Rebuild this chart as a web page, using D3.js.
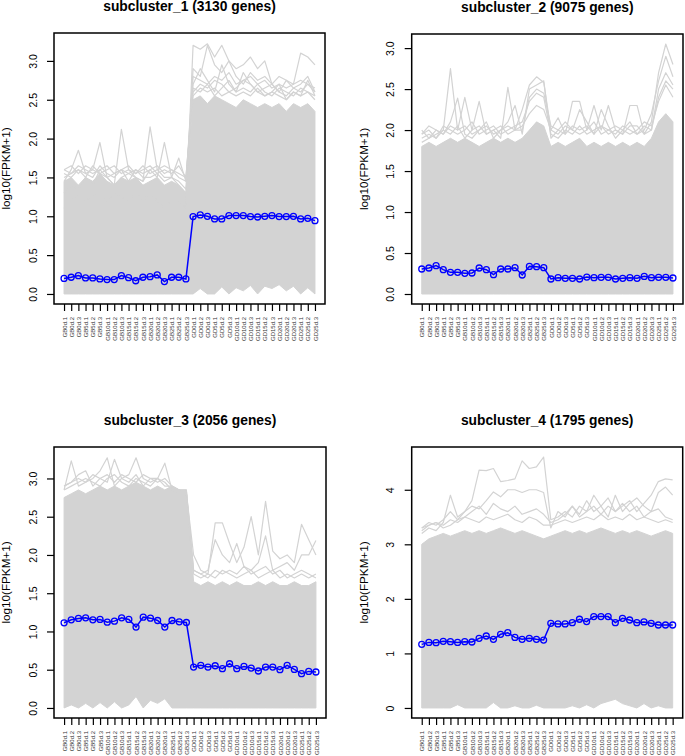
<!DOCTYPE html>
<html>
<head>
<meta charset="utf-8">
<script src="https://cdn.jsdelivr.net/npm/d3@7/dist/d3.min.js"></script>
<style>
  html, body { margin: 0; padding: 0; background: #fff; }
  svg { display: block; }
  text { font-family: "Liberation Sans", Arial, Helvetica, sans-serif; fill: #000; }
</style>
</head>
<body>
<svg id="chart" width="685" height="756"></svg>
<script>
// ---------------- DATA ----------------
const sampleLabels = [
  "GB0d.1","GB0d.2","GB0d.3","GB5d.1","GB5d.2","GB5d.3",
  "GB10d.1","GB10d.2","GB10d.3","GB15d.1","GB15d.2","GB15d.3",
  "GB20d.1","GB20d.2","GB20d.3","GB25d.1","GB25d.2","GB25d.3",
  "GD0d.1","GD0d.2","GD0d.3","GD5d.1","GD5d.2","GD5d.3",
  "GD10d.1","GD10d.2","GD10d.3","GD15d.1","GD15d.2","GD15d.3",
  "GD20d.1","GD20d.2","GD20d.3","GD25d.1","GD25d.2","GD25d.3"
];

const panelTitles = [
  "subcluster_1 (3130 genes)",
  "subcluster_2 (9075 genes)",
  "subcluster_3 (2056 genes)",
  "subcluster_4 (1795 genes)"
];

const yLabel = "log10(FPKM+1)";

const yTicks1 = [0, 0.5, 1, 1.5, 2, 2.5, 3];
const yTicks2 = [0, 0.5, 1, 1.5, 2, 2.5, 3];
const yTicks3 = [0, 0.5, 1, 1.5, 2, 2.5, 3];
const yTicks4 = [0, 1, 2, 3, 4];

const yMax1 = 3.23, yMax2 = 3.05, yMax3 = 3.28, yMax4 = 4.6;

// mean profiles (blue)
const mean1 = [0.20,0.215,0.236,0.206,0.206,0.193,0.185,0.185,0.236,0.21,0.17,0.215,0.223,0.245,0.16,0.215,0.215,0.193,
               0.996,1.017,1.0,0.966,0.966,1.009,1.009,1.009,0.996,0.991,1.0,1.009,0.996,0.996,1.0,0.966,0.974,0.944];
const mean2 = [0.305,0.317,0.346,0.297,0.264,0.264,0.252,0.256,0.317,0.297,0.236,0.305,0.305,0.321,0.232,0.337,0.333,0.321,
               0.183,0.199,0.191,0.191,0.183,0.207,0.199,0.203,0.203,0.183,0.191,0.199,0.191,0.215,0.199,0.203,0.203,0.195];
const mean3 = [1.113,1.152,1.170,1.178,1.152,1.157,1.122,1.135,1.178,1.157,1.057,1.187,1.174,1.143,1.057,1.143,1.126,1.117,
               0.535,0.557,0.535,0.552,0.513,0.578,0.513,0.543,0.522,0.483,0.535,0.535,0.50,0.557,0.504,0.448,0.478,0.47];
const mean4 = [1.166,1.202,1.196,1.221,1.215,1.202,1.215,1.209,1.276,1.319,1.258,1.35,1.38,1.294,1.258,1.276,1.258,1.245,
               1.552,1.54,1.54,1.564,1.626,1.583,1.675,1.675,1.675,1.564,1.644,1.613,1.564,1.577,1.552,1.521,1.521,1.521];

// dense gene-profile band (upper / lower edges of the solid grey mass)
const bandTop1 = [1.45,1.5,1.4,1.5,1.45,1.55,1.45,1.4,1.5,1.45,1.5,1.4,1.45,1.5,1.4,1.45,1.4,1.3,
                  2.5,2.55,2.45,2.55,2.5,2.45,2.4,2.5,2.45,2.4,2.45,2.4,2.45,2.35,2.45,2.4,2.45,2.35];
const bandLow1 = [0,0,0,0,0,0,0,0,0,0,0,0,0,0,0,0,0,0,
                  0,0.07,0,0,0.09,0,0.08,0.04,0.11,0,0.1,0.07,0.12,0.04,0.1,0,0.08,0];
const bandTop2 = [1.8,1.85,1.8,1.85,1.9,1.85,1.9,1.85,1.8,1.85,1.9,1.85,1.9,1.85,1.9,2.0,2.1,2.05,
                  1.8,1.85,1.8,1.85,1.9,1.8,1.85,1.8,1.85,1.8,1.85,1.8,1.85,1.8,1.9,2.1,2.2,2.1];
const bandLow2 = [0,0,0,0,0,0,0,0,0,0,0,0,0,0,0,0,0,0,
                  0,0,0,0,0,0,0,0,0,0,0,0,0,0,0,0,0,0];
const bandTop3 = [2.75,2.8,2.85,2.8,2.85,2.9,2.85,2.9,2.85,2.9,2.95,2.9,2.85,2.9,2.85,2.9,2.85,2.85,
                  1.65,1.6,1.65,1.6,1.65,1.6,1.65,1.6,1.6,1.65,1.6,1.65,1.6,1.6,1.65,1.6,1.6,1.65];
const bandLow3 = [0,0.04,0,0.06,0,0.07,0,0.08,0,0.04,0.15,0,0.1,0.06,0.12,0,0,0,
                  0,0,0,0,0,0,0,0,0,0,0,0,0,0,0,0,0,0];
const bandTop4 = [3.0,3.1,3.15,3.2,3.15,3.2,3.25,3.2,3.25,3.2,3.25,3.3,3.25,3.2,3.25,3.2,3.15,3.1,
                  3.15,3.2,3.25,3.2,3.25,3.2,3.25,3.3,3.25,3.2,3.25,3.2,3.25,3.2,3.15,3.2,3.25,3.2];
const bandLow4 = [0,0,0,0,0,0.06,0,0,0,0,0.1,0,0,0.04,0,0,0.05,0,
                  0,0,0,0.04,0,0.06,0,0.08,0.12,0.16,0.08,0.04,0,0.08,0,0.04,0,0];

// individual outlying gene profiles (grey lines above the band)
const genes1 = [
  [1.1,1.2,1.3,1.2,1.25,1.3,1.2,1.3,1.25,1.2,1.3,1.2,1.3,1.2,1.1,1.2,1.2,1.1,
   3.2,3.15,3.22,3.05,3.2,3.0,2.9,2.95,3.05,2.9,3.0,2.7,2.8,2.75,2.7,3.1,3.05,2.95],
  [1.6,1.65,1.55,1.65,1.6,1.95,1.5,1.55,1.6,1.45,1.6,1.5,1.5,1.55,1.45,1.5,1.4,1.3,
   2.9,2.8,3.2,2.95,2.85,3.0,2.8,2.7,2.85,2.75,2.8,2.7,2.6,2.75,2.65,2.7,2.8,2.6],
  [1.45,1.6,1.85,1.55,1.6,1.55,1.5,1.4,1.5,1.55,1.5,1.45,1.6,1.5,1.95,1.5,1.45,1.35,
   2.7,2.9,2.75,2.6,2.95,2.7,2.6,2.85,2.7,2.6,2.55,2.6,2.7,2.5,2.6,2.55,2.75,2.55],
  [1.3,1.4,1.35,1.5,1.4,1.6,1.5,1.4,2.12,1.6,1.5,1.45,2.15,1.6,1.5,1.5,1.75,1.45,
   2.6,2.7,2.65,2.75,2.7,2.6,2.65,2.75,2.7,2.6,2.65,2.7,2.6,2.55,2.65,2.6,2.7,2.6],
  [1.5,1.55,1.6,1.5,1.65,1.55,1.6,1.65,1.55,1.6,1.55,1.65,1.55,1.6,1.65,1.6,1.55,1.5,
   2.65,2.6,2.7,2.55,2.65,2.75,2.6,2.65,2.6,2.7,2.6,2.55,2.65,2.6,2.55,2.65,2.6,2.55],
  [1.55,1.5,1.6,1.55,1.5,1.65,1.55,1.5,1.6,1.65,1.55,1.6,1.65,1.55,1.6,1.55,1.65,1.5,
   2.55,2.65,2.6,2.65,2.55,2.6,2.55,2.6,2.55,2.65,2.55,2.6,2.55,2.5,2.6,2.55,2.6,2.5],
  [1.6,1.55,1.65,1.6,1.55,1.6,1.65,1.55,1.6,1.55,1.6,1.55,1.6,1.65,1.55,1.6,1.5,1.45,
   2.8,2.75,2.7,2.8,2.75,2.85,2.7,2.75,2.8,2.7,2.75,2.65,2.7,2.65,2.7,2.75,2.7,2.65]
];
const genes2 = [
  [1.95,2.0,1.9,2.0,2.75,2.0,2.4,2.0,2.35,1.95,2.0,1.9,2.52,2.0,2.25,2.55,2.65,2.58,
   2.0,2.15,1.95,2.35,2.35,2.0,2.3,2.0,2.3,2.0,1.95,2.3,2.3,1.95,2.1,2.7,3.05,2.8],
  [1.85,1.9,2.0,1.95,2.1,2.39,1.95,1.9,2.0,2.1,1.9,2.0,2.1,2.3,1.95,2.5,2.55,2.6,
   1.9,2.0,2.1,2.0,2.25,2.1,1.95,2.25,2.05,1.9,2.0,2.1,1.95,2.0,2.2,2.6,2.9,2.65],
  [1.9,1.95,1.9,2.05,2.0,1.95,2.0,2.1,1.95,2.0,2.05,1.95,2.0,2.05,2.1,2.35,2.45,2.4,
   1.95,1.9,2.0,1.95,2.05,1.95,2.0,2.05,1.95,2.0,1.95,2.05,2.05,1.95,2.0,2.5,2.7,2.55],
  [2.0,1.9,1.95,2.0,1.95,2.05,1.9,2.0,2.05,1.95,2.0,2.05,1.95,2.0,2.05,2.2,2.3,2.25,
   2.0,1.95,2.05,2.0,1.95,2.0,2.1,1.95,2.0,2.05,2.0,1.95,2.0,2.1,2.05,2.35,2.55,2.4],
  [1.95,2.05,2.0,1.95,2.05,2.0,2.05,1.95,2.0,2.05,1.95,2.0,2.05,2.0,2.0,2.4,2.5,2.45,
   2.05,2.0,1.95,2.05,2.0,2.05,1.95,2.05,2.0,1.95,2.05,2.0,1.95,2.05,2.0,2.4,2.6,2.5]
];
const genes3 = [
  [2.85,3.23,2.9,2.95,3.0,3.1,3.27,2.9,3.0,3.05,3.27,3.0,2.95,3.0,3.2,2.85,2.8,2.8,
   2.0,1.8,1.75,2.42,2.42,2.15,1.9,2.1,2.5,2.0,2.7,2.05,1.95,2.0,1.9,2.4,2.2,2.0],
  [2.9,2.95,3.05,3.1,2.9,3.0,2.95,3.25,3.0,2.95,3.05,2.9,3.0,3.0,2.95,2.85,2.85,2.8,
   1.8,1.75,1.8,2.2,2.0,1.9,2.15,1.85,1.8,1.9,2.25,1.8,1.85,1.9,1.8,2.0,2.0,2.19],
  [2.9,2.95,3.0,2.95,3.05,3.0,3.05,2.95,3.05,3.0,2.95,3.05,3.0,2.95,3.0,2.9,2.85,2.85,
   1.8,1.75,1.7,1.8,1.75,1.8,1.75,1.85,1.75,1.8,1.85,1.75,1.8,1.7,1.75,1.8,1.75,1.7],
  [2.85,2.9,2.95,3.0,2.95,2.9,3.0,3.05,2.95,2.9,3.0,2.95,2.9,3.0,2.9,2.9,2.85,2.8,
   1.75,1.7,1.75,1.7,1.8,1.75,1.7,1.75,1.8,1.7,1.75,1.8,1.7,1.75,1.7,1.75,1.7,1.75]
];
const genes4 = [
  [3.3,3.35,3.4,3.3,3.35,3.45,3.6,3.8,4.36,4.35,4.39,4.15,4.17,4.2,4.53,4.39,4.42,4.6,
   3.45,3.5,3.6,3.5,3.7,3.6,3.9,3.7,3.85,3.6,3.7,3.8,3.6,3.75,3.9,4.15,4.2,4.18],
  [3.2,3.3,3.25,3.4,3.9,3.5,3.6,3.7,3.65,3.8,3.96,3.87,4.0,4.0,3.95,4.0,4.0,3.95,
   3.3,3.6,3.5,3.7,3.55,3.8,3.6,3.7,3.5,3.9,3.6,3.75,3.85,3.7,3.6,3.95,4.05,3.9],
  [3.3,3.4,3.35,3.45,3.6,3.45,3.5,3.6,3.7,3.55,3.75,3.65,3.6,3.7,3.55,3.6,3.65,3.55,
   3.4,3.45,3.55,3.7,3.5,3.6,3.7,3.55,3.7,3.6,3.75,3.6,3.7,3.5,3.6,3.65,3.5,3.45],
  [3.25,3.35,3.4,3.35,3.45,3.4,3.5,3.45,3.4,3.5,3.45,3.5,3.55,3.45,3.4,3.5,3.45,3.35,
   3.35,3.4,3.45,3.4,3.45,3.5,3.45,3.55,3.45,3.5,3.45,3.55,3.45,3.5,3.45,3.4,3.45,3.4]
];

// ---------------- DRAWING ----------------
const panels = [
  {title: panelTitles[0], ticks: yTicks1, fmt: d3.format(".1f"), yMax: yMax1, mean: mean1, top: bandTop1, low: bandLow1, genes: genes1,
   box: {left: 54, right: 325, top: 33, bottom: 304}},
  {title: panelTitles[1], ticks: yTicks2, fmt: d3.format(".1f"), yMax: yMax2, mean: mean2, top: bandTop2, low: bandLow2, genes: genes2,
   box: {left: 411.7, right: 683, top: 34, bottom: 304}},
  {title: panelTitles[2], ticks: yTicks3, fmt: d3.format(".1f"), yMax: yMax3, mean: mean3, top: bandTop3, low: bandLow3, genes: genes3,
   box: {left: 54, right: 326, top: 447, bottom: 718}},
  {title: panelTitles[3], ticks: yTicks4, fmt: d3.format("d"), yMax: yMax4, mean: mean4, top: bandTop4, low: bandLow4, genes: genes4,
   box: {left: 411.7, right: 682.7, top: 447, bottom: 718}}
];

const svg = d3.select("#chart");
const GREY = "#d3d3d3";
const BLUE = "#0000ff";

panels.forEach(p => {
  const b = p.box;
  const padX = (b.right - b.left) * 0.04 / 1.08;
  const padY = (b.bottom - b.top) * 0.04 / 1.08;
  const x = d3.scaleLinear().domain([0, sampleLabels.length - 1]).range([b.left + padX, b.right - padX]);
  const y = d3.scaleLinear().domain([0, p.yMax]).range([b.bottom - padY, b.top + padY]);
  const idx = d3.range(sampleLabels.length);

  const g = svg.append("g");

  // dense band
  const area = d3.area()
    .x(i => x(i))
    .y0(i => y(p.low[i]))
    .y1(i => y(p.top[i]));
  g.append("path").datum(idx).attr("d", area)
    .attr("fill", GREY).attr("stroke", GREY).attr("stroke-width", 1);

  // outlying gene profiles
  const line = d3.line().x((d, i) => x(i)).y(d => y(d));
  g.selectAll("path.gene").data(p.genes).enter().append("path")
    .attr("class", "gene")
    .attr("d", d => line(d))
    .attr("fill", "none").attr("stroke", GREY).attr("stroke-width", 1.2)
    .attr("stroke-linejoin", "round");

  // mean profile
  g.append("path").datum(p.mean).attr("d", line)
    .attr("fill", "none").attr("stroke", BLUE).attr("stroke-width", 1.5);
  g.selectAll("circle").data(p.mean).enter().append("circle")
    .attr("cx", (d, i) => x(i)).attr("cy", d => y(d)).attr("r", 3)
    .attr("fill", "none").attr("stroke", BLUE).attr("stroke-width", 1.3);

  // box
  g.append("rect").attr("x", b.left).attr("y", b.top)
    .attr("width", b.right - b.left).attr("height", b.bottom - b.top)
    .attr("fill", "none").attr("stroke", "#000").attr("stroke-width", 1.5);

  // y axis
  const ya = g.append("g").attr("transform", `translate(${b.left},0)`)
    .call(d3.axisLeft(y).tickValues(p.ticks).tickSize(7).tickFormat(p.fmt));
  ya.select(".domain").remove();
  ya.selectAll(".tick line").attr("stroke", "#000").attr("stroke-width", 1.2);
  ya.selectAll(".tick text")
    .attr("x", null).attr("dy", "0.35em")
    .attr("text-anchor", "middle")
    .attr("transform", "translate(-21,0) rotate(-90)")
    .style("font-size", "10.5px")
    .style("font-family", "'Liberation Sans', Arial, sans-serif");

  // x axis
  const xa = g.append("g").attr("transform", `translate(0,${b.bottom})`)
    .call(d3.axisBottom(x).tickValues(idx).tickSize(7).tickFormat(i => sampleLabels[i]));
  xa.select(".domain").remove();
  xa.selectAll(".tick line").attr("stroke", "#000").attr("stroke-width", 1.2);
  xa.selectAll(".tick text")
    .attr("y", null).attr("dy", "0.35em")
    .attr("text-anchor", "end")
    .attr("transform", "translate(0,13) rotate(-90)")
    .style("font-size", "6px")
    .style("fill", "#333")
    .style("font-family", "'Liberation Sans', Arial, sans-serif");

  // y label
  const cy = (b.top + b.bottom) / 2;
  g.append("text")
    .attr("transform", `translate(${b.left - 48},${cy}) rotate(-90)`)
    .attr("text-anchor", "middle").attr("dy", "0.35em")
    .style("font-size", "11.7px")
    .text(yLabel);

  // title
  g.append("text")
    .attr("x", (b.left + b.right) / 2).attr("y", b.top - 22)
    .attr("text-anchor", "middle")
    .style("font-size", "13.8px").style("font-weight", "bold")
    .text(p.title);
});
</script>
</body>
</html>
